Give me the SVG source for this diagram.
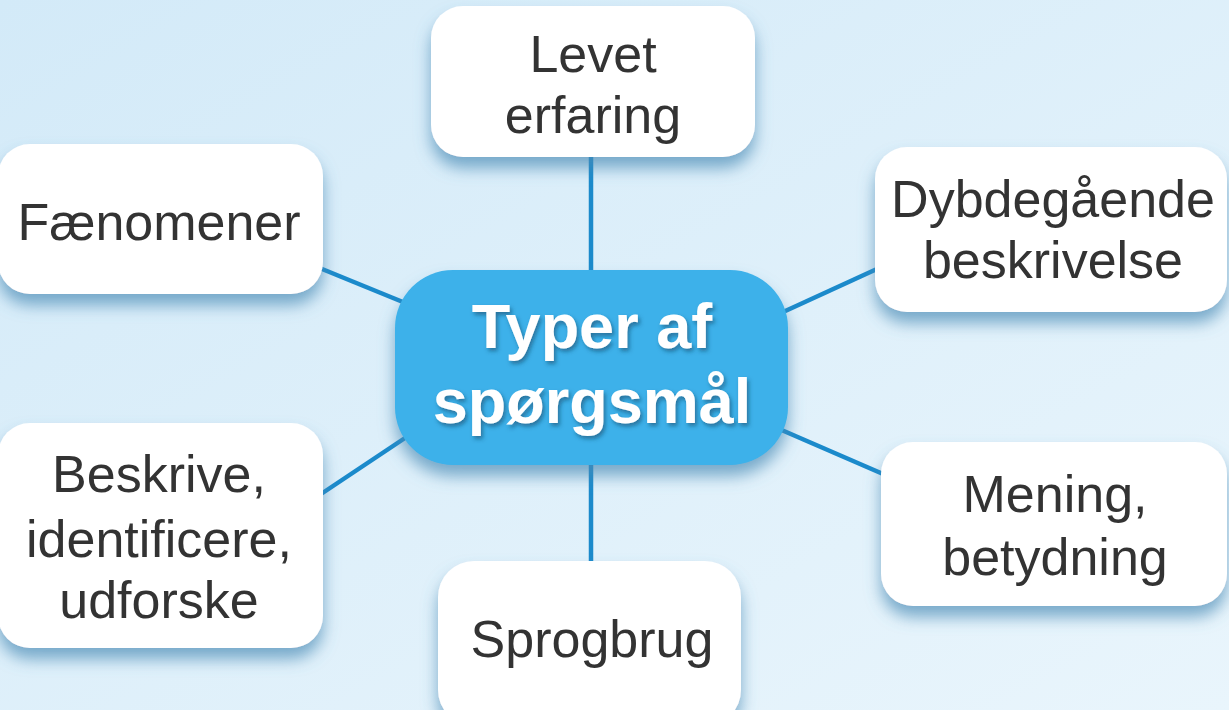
<svg xmlns="http://www.w3.org/2000/svg" width="1229" height="710" viewBox="0 0 1229 710">
<defs>
<linearGradient id="bg" x1="0" y1="0" x2="1" y2="1">
<stop offset="0" stop-color="#d3eaf8"/>
<stop offset="1" stop-color="#e9f5fc"/>
</linearGradient>
<filter id="sh" x="-15%" y="-15%" width="130%" height="145%">
<feDropShadow dx="0" dy="11" stdDeviation="8" flood-color="#4a8bb5" flood-opacity="0.7"/>
</filter>
<filter id="tsh" x="-10%" y="-10%" width="120%" height="130%">
<feDropShadow dx="2" dy="3" stdDeviation="2" flood-color="#0b3d5c" flood-opacity="0.55"/>
</filter>
<style>
.node{fill:#ffffff;filter:url(#sh)}
.lbl{font-family:"Liberation Sans",Arial,sans-serif;font-size:52px;fill:#333333;text-anchor:middle}
.conn{stroke:#1b8acb;stroke-width:4.5;fill:none}
.ctr{fill:#3cb1ea;filter:url(#sh)}
.ctxt{font-family:"Liberation Sans",Arial,sans-serif;font-size:63px;font-weight:bold;fill:#ffffff;text-anchor:middle;filter:url(#tsh)}
</style>
</defs>
<rect x="0" y="0" width="1229" height="710" fill="url(#bg)"/>
<g id="connectors">
<line class="conn" x1="591" y1="150" x2="591" y2="285"/>
<line class="conn" x1="591" y1="450" x2="591" y2="570"/>
<line class="conn" x1="300" y1="260" x2="420" y2="309"/>
<line class="conn" x1="300" y1="508" x2="420" y2="428"/>
<line class="conn" x1="770" y1="318" x2="890" y2="263"/>
<line class="conn" x1="770" y1="425" x2="890" y2="477"/>
</g>
<g id="n-levet">
<rect class="node" x="431" y="6" width="324" height="151" rx="32"/>
<text class="lbl" x="593" y="72">Levet</text>
<text class="lbl" x="593" y="133">erfaring</text>
</g>
<g id="n-faenomener">
<rect class="node" x="-2" y="144" width="325" height="150" rx="32"/>
<text class="lbl" x="159" y="240">Fænomener</text>
</g>
<g id="n-dybde">
<rect class="node" x="875" y="147" width="352" height="165" rx="32"/>
<text class="lbl" x="1053" y="217">Dybdegående</text>
<text class="lbl" x="1053" y="278">beskrivelse</text>
</g>
<g id="n-mening">
<rect class="node" x="881" y="442" width="346" height="164" rx="32"/>
<text class="lbl" x="1055" y="512">Mening,</text>
<text class="lbl" x="1055" y="575">betydning</text>
</g>
<g id="n-beskrive">
<rect class="node" x="-2" y="423" width="325" height="225" rx="32"/>
<text class="lbl" x="159" y="492">Beskrive,</text>
<text class="lbl" x="159" y="557">identificere,</text>
<text class="lbl" x="159" y="618">udforske</text>
</g>
<g id="n-sprogbrug">
<rect class="node" x="438" y="561" width="303" height="165" rx="36"/>
<text class="lbl" x="592" y="657">Sprogbrug</text>
</g>
<g id="n-center">
<rect class="ctr" x="395" y="270" width="393" height="195" rx="58"/>
<text class="ctxt" x="592" y="348">Typer af</text>
<text class="ctxt" x="592" y="423">spørgsmål</text>
</g>
</svg>
